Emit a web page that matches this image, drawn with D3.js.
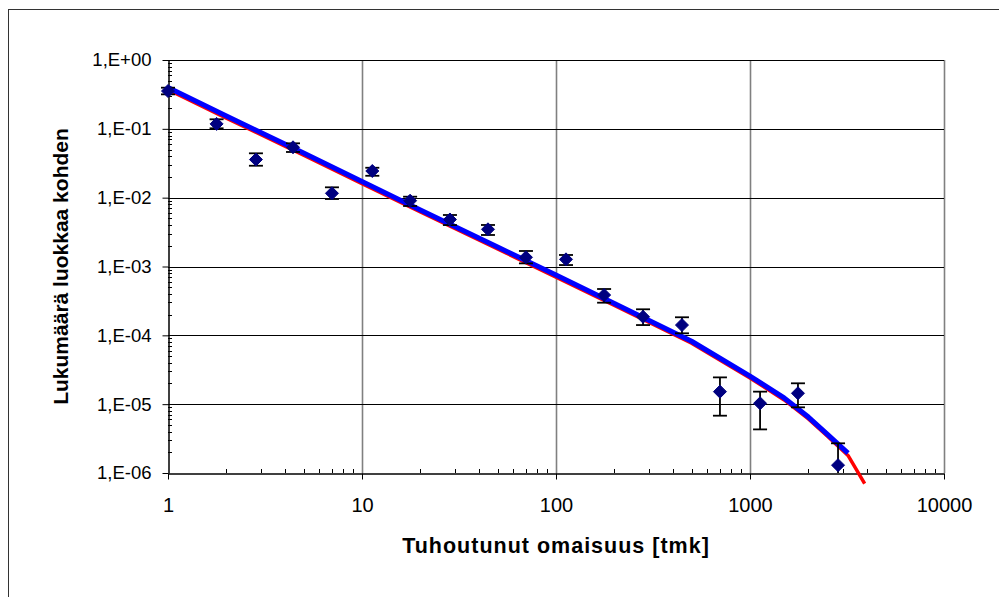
<!DOCTYPE html>
<html>
<head>
<meta charset="utf-8">
<script src="https://cdn.jsdelivr.net/npm/d3@7/dist/d3.min.js"></script>
<style>
  html, body { margin: 0; padding: 0; background: #fff; }
  svg { display: block; }
  text { font-family: "Liberation Sans", Arial, sans-serif; fill: #000; }
</style>
</head>
<body>
<svg id="chart" width="999" height="597"></svg>
<script>
// ---- data ----
const pointX    = [1, 1.78, 2.84, 4.41, 7.0, 11.3, 17.7, 28.4, 44.6, 70, 112.6, 177, 281, 446, 700, 1127, 1767, 2843];
const pointY    = [0.354, 0.118, 0.0358, 0.0539, 0.01157, 0.0244, 0.00903, 0.00482, 0.00347, 0.00136, 0.00127, 3.85e-4, 1.86e-4, 1.41e-4, 1.52e-5, 1.03e-5, 1.44e-5, 1.3e-6];
const pointHigh = [0.396, 0.1376, 0.0441, 0.0616, 0.01414, 0.0272, 0.01033, 0.0056, 0.00401, 0.00168, 0.00147, 4.71e-4, 2.39e-4, 1.83e-4, 2.45e-5, 1.52e-5, 2.01e-5, 2.7e-6];
const pointLow  = [0.317, 0.1018, 0.0291, 0.0461, 0.00956, 0.0208, 0.00757, 0.0040, 0.00287, 0.00111, 0.00105, 2.98e-4, 1.41e-4, 1.07e-4, 6.8e-6, 4.3e-6, 9.0e-6, 1e-7];

const blueX = [1, 2, 5, 10, 20, 50, 100, 200, 500, 1000, 1500, 2000, 2500, 3200];
const blueY = [0.398, 0.1536, 0.0445, 0.01717, 0.00662, 0.00192, 7.52e-4, 2.90e-4, 8.2e-5, 2.56e-5, 1.23e-5, 6.5e-6, 3.68e-6, 1.95e-6];

const redX = [1, 2, 5, 10, 20, 50, 100, 200, 500, 1000, 1500, 2000, 2500, 3200, 3900];
const redY = [0.37, 0.143, 0.0415, 0.0160, 0.0062, 0.00180, 7.0e-4, 2.72e-4, 7.7e-5, 2.4e-5, 1.15e-5, 6.1e-6, 3.45e-6, 1.8e-6, 7.0e-7];

const xTicks = [1, 10, 100, 1000, 10000];
const xTickLabels = ["1", "10", "100", "1000", "10000"];
const yTicks = [1, 1e-1, 1e-2, 1e-3, 1e-4, 1e-5, 1e-6];
const yTickLabels = ["1,E+00", "1,E-01", "1,E-02", "1,E-03", "1,E-04", "1,E-05", "1,E-06"];

const xTitle = "Tuhoutunut omaisuus [tmk]";
const yTitle = "Lukumäärä luokkaa kohden";

// ---- layout ----
const svg = d3.select("#chart");
const L = 168, R = 944, T = 60, B = 473;

const x = d3.scaleLog().domain([1, 10000]).range([L, R]);
const y = d3.scaleLog().domain([1e-6, 1]).range([B, T]);

// outer chart border (only top/left visible)
svg.append("rect").attr("x", 8.5).attr("y", 9.5).attr("width", 1100).attr("height", 700)
  .attr("fill", "none").attr("stroke", "#333").attr("stroke-width", 1);

// vertical gridlines (gray)
svg.append("g").selectAll("line").data(xTicks.slice(1)).join("line")
  .attr("x1", d => Math.round(x(d)) + 0.5).attr("x2", d => Math.round(x(d)) + 0.5)
  .attr("y1", T).attr("y2", B)
  .attr("stroke", "#808080").attr("stroke-width", 1.6);

// horizontal gridlines (black)
svg.append("g").selectAll("line").data(yTicks.slice(0, -1)).join("line")
  .attr("x1", L).attr("x2", R)
  .attr("y1", d => Math.round(y(d)) + 0.5).attr("y2", d => Math.round(y(d)) + 0.5)
  .attr("stroke", "#000").attr("stroke-width", 1);

// minor tick values
const minorX = [];
for (let p = 0; p < 4; p++) for (let m = 2; m <= 9; m++) minorX.push(m * Math.pow(10, p));
const minorY = [];
for (let p = -6; p < 0; p++) for (let m = 2; m <= 9; m++) minorY.push(m * Math.pow(10, p));

// Y axis
const yAxis = d3.axisLeft(y).tickValues(yTicks).tickFormat((d, i) => yTickLabels[i]).tickSizeInner(6).tickSizeOuter(0).tickPadding(11);
const gy = svg.append("g").attr("transform", `translate(${L + 0.5},0)`).call(yAxis);
gy.select(".domain").attr("stroke", "#000").attr("stroke-width", 1.5);
gy.selectAll(".tick line").attr("stroke", "#000");
gy.selectAll(".tick text").style("font-size", "18.5px").attr("font-family", "Liberation Sans, Arial, sans-serif").attr("fill", "#000");
svg.append("g").selectAll("line").data(minorY).join("line")
  .attr("x1", L).attr("x2", L + 4)
  .attr("y1", d => Math.round(y(d)) + 0.5).attr("y2", d => Math.round(y(d)) + 0.5)
  .attr("stroke", "#000").attr("stroke-width", 1);

// X axis
const xAxis = d3.axisBottom(x).tickValues(xTicks).tickFormat((d, i) => xTickLabels[i]).tickSizeInner(6).tickSizeOuter(0).tickPadding(18);
const gx = svg.append("g").attr("transform", `translate(0,${B + 0.5})`).call(xAxis);
gx.select(".domain").attr("stroke", "#000").attr("stroke-width", 1.5);
gx.selectAll(".tick line").attr("stroke", "#000");
gx.selectAll(".tick text").style("font-size", "20px").attr("font-family", "Liberation Sans, Arial, sans-serif").attr("fill", "#000");
svg.append("g").selectAll("line").data(minorX).join("line")
  .attr("x1", d => Math.round(x(d)) + 0.5).attr("x2", d => Math.round(x(d)) + 0.5)
  .attr("y1", B).attr("y2", B - 4)
  .attr("stroke", "#000").attr("stroke-width", 1);

// lines
const line = d3.line().x(d => x(d[0])).y(d => y(d[1]));
svg.append("path").datum(redX.map((v, i) => [v, redY[i]]))
  .attr("d", line).attr("fill", "none").attr("stroke", "#ff0000").attr("stroke-width", 3.5).attr("stroke-linejoin", "round");
svg.append("path").datum(blueX.map((v, i) => [v, blueY[i]]))
  .attr("d", line).attr("fill", "none").attr("stroke", "#0000ff").attr("stroke-width", 5).attr("stroke-linejoin", "round");

// error bars (clipped to plot area)
svg.append("clipPath").attr("id", "plotclip").append("rect")
  .attr("x", L - 10).attr("y", T - 10).attr("width", R - L + 20).attr("height", B - T + 10);
const pts = pointX.map((v, i) => ({x: v, y: pointY[i], hi: pointHigh[i], lo: pointLow[i]}));
const eb = svg.append("g").attr("clip-path", "url(#plotclip)");
const cap = 7;
const ebg = eb.selectAll("g").data(pts).join("g");
ebg.append("line").attr("x1", d => x(d.x)).attr("x2", d => x(d.x))
  .attr("y1", d => y(d.hi)).attr("y2", d => y(d.lo))
  .attr("stroke", "#000").attr("stroke-width", 1.8);
ebg.append("line").attr("x1", d => x(d.x) - cap).attr("x2", d => x(d.x) + cap)
  .attr("y1", d => y(d.hi)).attr("y2", d => y(d.hi))
  .attr("stroke", "#000").attr("stroke-width", 1.8);
ebg.append("line").attr("x1", d => x(d.x) - cap).attr("x2", d => x(d.x) + cap)
  .attr("y1", d => y(d.lo)).attr("y2", d => y(d.lo))
  .attr("stroke", "#000").attr("stroke-width", 1.8);

// diamonds
const ds = 6.5;
svg.append("g").selectAll("path").data(pts).join("path")
  .attr("d", d => { const cx = x(d.x), cy = y(d.y); return `M${cx},${cy - ds}L${cx + ds},${cy}L${cx},${cy + ds}L${cx - ds},${cy}Z`; })
  .attr("fill", "#000080").attr("stroke", "#000080").attr("stroke-width", 1);

// titles
svg.append("text").attr("x", (L + R) / 2).attr("y", 553).attr("text-anchor", "middle")
  .style("font-size", "21.5px").style("font-weight", "bold").style("letter-spacing", "1px").text(xTitle);
svg.append("text").attr("transform", `translate(68,${(T + B) / 2}) rotate(-90)`).attr("text-anchor", "middle")
  .style("font-size", "21px").style("font-weight", "bold").text(yTitle);
</script>
</body>
</html>
